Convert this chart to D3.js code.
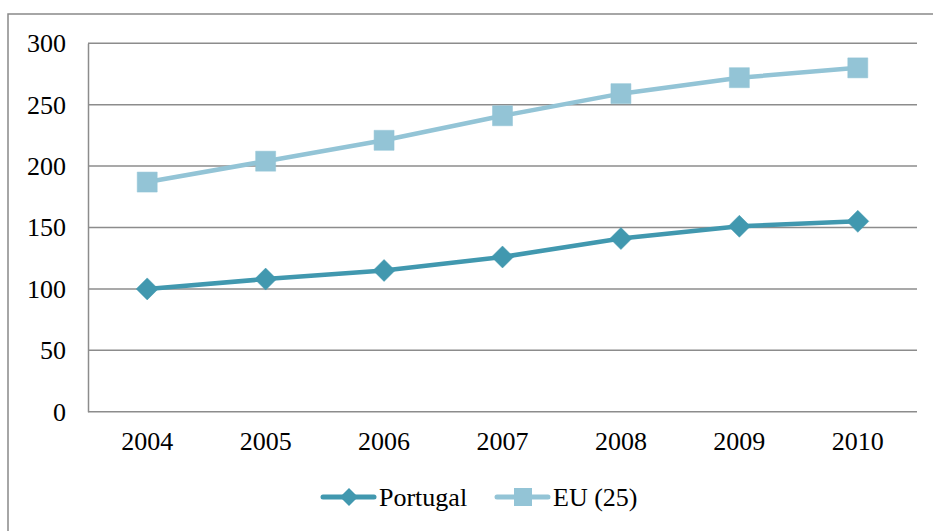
<!DOCTYPE html>
<html><head><meta charset="utf-8">
<script src="https://cdn.jsdelivr.net/npm/d3@7"></script>
<style>body{margin:0;background:#fff}svg{display:block}</style>
</head><body>
<svg id="c" width="933" height="531"></svg>
<script>
const years = ["2004","2005","2006","2007","2008","2009","2010"];
const portugal = [100, 108, 115, 126, 141, 151, 155];
const eu25 = [187, 204, 221, 241, 259, 272, 280];
const yTicks = [0, 50, 100, 150, 200, 250, 300];
const seriesNames = ["Portugal", "EU (25)"];
const seriesColors = ["#4198AF", "#93C4D6"];

const svg = d3.select("#c");
const font = "'Liberation Serif','Times New Roman',serif";
// outer border (top and left visible)
svg.append("rect").attr("x", 8).attr("y", 14).attr("width", 1000).attr("height", 600)
  .attr("fill", "none").attr("stroke", "#898989").attr("stroke-width", 1.5);

const L = 88, R = 917, T = 43.3, B = 411.7;
const x = d3.scaleBand().domain(years).range([L, R]);
const y = d3.scaleLinear().domain([0, 300]).range([B, T]);

// gridlines
svg.append("g").selectAll("line").data(yTicks.filter(d => d > 0)).join("line")
  .attr("x1", L).attr("x2", R).attr("y1", d => y(d)).attr("y2", d => y(d))
  .attr("stroke", "#8c8c8c").attr("stroke-width", 1.5);

// y axis
const ya = svg.append("g").attr("transform", `translate(${L},0)`)
  .call(d3.axisLeft(y).tickValues(yTicks).tickSize(0).tickPadding(22));
ya.select(".domain").attr("stroke", "#8c8c8c").attr("stroke-width", 1.5);
ya.selectAll("text").style("font-family", font).style("font-size", "26px").attr("fill", "#000");

// x axis
const xa = svg.append("g").attr("transform", `translate(0,${B})`)
  .call(d3.axisBottom(x).tickSize(0).tickPadding(20));
xa.select(".domain").attr("d", `M${L},0H${R}`).attr("stroke", "#8c8c8c").attr("stroke-width", 1.5);
xa.selectAll("text").style("font-family", font).style("font-size", "26px").attr("fill", "#000");

const cx = d => x(d) + x.bandwidth() / 2;
const line = d3.line().x(d => cx(d[0])).y(d => y(d[1]));

const data = [portugal, eu25];
data.forEach((vals, i) => {
  const pts = years.map((yr, j) => [yr, vals[j]]);
  svg.append("path").attr("d", line(pts)).attr("fill", "none")
    .attr("stroke", seriesColors[i]).attr("stroke-width", 4.5).attr("stroke-linejoin", "round");
  const sym = i === 0 ? d3.symbolDiamond2 : d3.symbolSquare2;
  const size = i === 0 ? 260 : 380;
  svg.append("g").selectAll("path").data(pts).join("path")
    .attr("transform", d => `translate(${cx(d[0])},${y(d[1])})` + (i === 0 ? "" : ""))
    .attr("d", i === 0 ? "M0,-11L11,0L0,11L-11,0Z" : "M-10,-10H10V10H-10Z")
    .attr("fill", seriesColors[i]).attr("stroke", seriesColors[i]).attr("stroke-width", 0.5)
    .attr("stroke-linejoin", "round");
});

// legend
const legX = [321, 495];
seriesNames.forEach((n, i) => {
  const g = svg.append("g").attr("transform", `translate(${legX[i]},497)`);
  g.append("line").attr("x1", 2).attr("x2", 53).attr("stroke", seriesColors[i])
    .attr("stroke-width", 5).attr("stroke-linecap", "round");
  g.append("path").attr("transform", "translate(28,0)")
    .attr("d", i === 0 ? "M0,-9L9,0L0,9L-9,0Z" : "M-9,-9H9V9H-9Z")
    .attr("fill", seriesColors[i]);
  g.append("text").attr("x", 58).attr("y", 9).text(n)
    .style("font-family", font).style("font-size", "26px").attr("fill", "#000");
});
</script>
</body></html>
